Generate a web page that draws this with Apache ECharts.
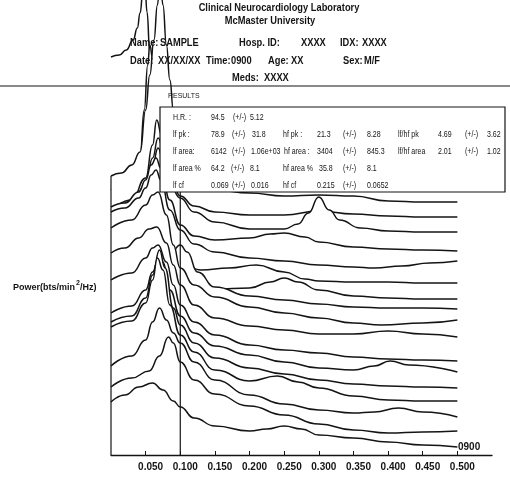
<!DOCTYPE html>
<html><head><meta charset="utf-8">
<script src="https://cdn.jsdelivr.net/npm/echarts@6/dist/echarts.min.js"></script>
<style>html,body{margin:0;padding:0;background:#fff}#c{width:510px;height:478px}</style>
</head><body><div id="c"></div>
<script>
// frequency tick labels (Hz)
const freqTicks = [0.05,0.10,0.15,0.20,0.25,0.30,0.35,0.40,0.45,0.50];
// spectra: [frequency, stacked power height], front (spec01) to back (spec20)
const spec01 = [[0,53],[0.02,60],[0.04,68],[0.06,72],[0.075,65],[0.09,54],[0.1,48],[0.12,37],[0.15,29],[0.2,24],[0.225,26],[0.25,29],[0.275,26],[0.3,20],[0.35,17],[0.4,13],[0.45,10],[0.5,8]];
const spec02 = [[0,68],[0.03,77],[0.055,84],[0.07,99],[0.083,118],[0.09,112],[0.1,93],[0.12,75],[0.15,61],[0.2,49],[0.25,40],[0.3,31],[0.35,25],[0.4,22],[0.45,23],[0.5,24]];
const spec03 = [[0,89],[0.03,99],[0.05,115],[0.06,133],[0.07,147],[0.08,135],[0.09,122],[0.1,112],[0.12,93],[0.15,75],[0.2,60],[0.25,51],[0.3,45],[0.35,42],[0.38,43],[0.415,47],[0.45,43],[0.5,38]];
const spec04 = [[0,128],[0.03,134],[0.05,152],[0.06,175],[0.067,197],[0.075,185],[0.085,150],[0.1,120],[0.12,103],[0.15,85],[0.2,74],[0.24,79],[0.27,73],[0.3,67],[0.35,59],[0.4,55],[0.45,54],[0.5,54]];
const spec05 = [[0,133],[0.03,139],[0.05,157],[0.06,180],[0.07,205],[0.078,187],[0.09,147],[0.1,130],[0.12,112],[0.15,97],[0.2,87],[0.25,81],[0.3,75],[0.35,71],[0.4,69],[0.45,68],[0.5,67]];
const spec06 = [[0,142],[0.03,149],[0.05,165],[0.06,183],[0.068,195],[0.075,193],[0.085,165],[0.1,139],[0.12,122],[0.15,109],[0.2,100],[0.25,93],[0.3,87],[0.35,85],[0.38,89],[0.403,94],[0.43,90],[0.5,83]];
const spec07 = [[0,175],[0.03,182],[0.05,197],[0.06,207],[0.068,210],[0.08,193],[0.09,170],[0.1,150],[0.12,133],[0.15,120],[0.2,110],[0.25,105],[0.3,102],[0.35,98],[0.4,96],[0.45,95],[0.5,94]];
const spec08 = [[0,202],[0.02,207],[0.04,217],[0.055,226],[0.066,228],[0.08,212],[0.09,190],[0.1,170],[0.12,150],[0.15,137],[0.2,129],[0.25,125],[0.3,121],[0.35,121],[0.4,124],[0.45,121],[0.5,118]];
const spec09 = [[0,227],[0.03,235],[0.05,250],[0.06,260],[0.068,263],[0.08,240],[0.09,210],[0.1,187],[0.12,170],[0.15,158],[0.2,148],[0.25,142],[0.3,137],[0.35,132],[0.39,130],[0.45,132],[0.5,135]];
const spec10 = [[0,165],[0.04,170],[0.07,180],[0.085,200],[0.1,210],[0.11,203],[0.125,183],[0.15,168],[0.2,159],[0.25,155],[0.3,151],[0.35,148],[0.4,147],[0.45,147],[0.5,146]];
const spec11 = [[0,175],[0.05,185],[0.08,193],[0.09,189],[0.1,180],[0.12,171],[0.15,166],[0.2,167],[0.23,173],[0.25,177],[0.27,173],[0.3,165],[0.35,159],[0.4,157],[0.45,156],[0.5,156]];
const spec12 = [[0,185],[0.05,193],[0.08,197],[0.1,193],[0.13,185],[0.17,187],[0.21,190],[0.25,183],[0.28,176],[0.3,174],[0.35,173],[0.4,173],[0.45,172],[0.5,172]];
const spec13 = [[0,243],[0.02,247],[0.04,257],[0.05,267],[0.058,280],[0.065,285],[0.072,275],[0.085,245],[0.1,225],[0.12,211],[0.15,203],[0.2,197],[0.25,194],[0.3,190],[0.35,188],[0.38,187],[0.42,189],[0.46,192],[0.5,194]];
const spec14 = [[0,248],[0.02,252],[0.04,263],[0.05,275],[0.058,290],[0.065,297],[0.072,287],[0.085,255],[0.1,230],[0.12,219],[0.15,215],[0.2,217],[0.23,221],[0.25,222],[0.28,218],[0.3,213],[0.35,208],[0.4,206],[0.45,205],[0.5,204]];
const spec15 = [[0,240],[0.03,247],[0.05,265],[0.06,290],[0.068,307],[0.075,295],[0.085,270],[0.1,257],[0.12,243],[0.15,233],[0.2,226],[0.25,226],[0.27,231],[0.285,242],[0.3,258],[0.315,245],[0.33,235],[0.36,227],[0.4,224],[0.45,223],[0.5,223]];
const spec16 = [[0,243],[0.03,251],[0.05,270],[0.06,297],[0.068,317],[0.076,305],[0.085,280],[0.1,259],[0.12,249],[0.15,243],[0.2,240],[0.25,240],[0.3,244],[0.35,241],[0.4,239],[0.45,238],[0.5,238]];
const spec17 = [[0,245],[0.03,255],[0.05,277],[0.06,310],[0.066,335],[0.073,320],[0.085,290],[0.1,270],[0.15,265],[0.2,262],[0.25,259],[0.3,260],[0.35,259],[0.4,254],[0.45,253],[0.5,253]];
const spec18 = [[0,279],[0.015,282],[0.03,290],[0.042,303],[0.05,345],[0.056,380],[0.062,415],[0.067,450],[0.071,480],[0.075,450],[0.08,410],[0.085,375],[0.09,345],[0.1,305],[0.12,283],[0.2,275],[0.5,271]];
const spec19 = [[0,265],[0.03,283],[0.042,300],[0.048,345],[0.053,390],[0.056,410],[0.06,397],[0.066,360],[0.075,320],[0.09,290],[0.1,280],[0.2,275],[0.5,273]];
const spec20 = [[0,398],[0.012,400],[0.022,405],[0.032,415],[0.038,427],[0.042,442],[0.046,463],[0.049,470],[0.052,443],[0.056,403],[0.06,365],[0.07,325],[0.085,295],[0.1,283],[0.2,277],[0.5,275]];
// reference lines
const lfLimit = [[0.1,0],[0.1,263]];
const powerAxis = [[0,0],[0,279]];

const spectraBackToFront = [spec20,spec19,spec18,spec17,spec16,spec15,spec14,spec13,spec12,spec11,spec10,spec09,spec08,spec07,spec06,spec05,spec04,spec03,spec02,spec01];

// header / results texts
const headerRows = [
  ['Name:',130,43],['SAMPLE',160,43],['Hosp. ID:',239,43],['XXXX',301,43],['IDX:',340,43],['XXXX',362,43],
  ['Date:',130,61],['XX/XX/XX',158,61],['Time:',206,61],['0900',231,61],['Age:',268,61],['XX',291,61],['Sex:',343,61],['M/F',364,61],
  ['Meds:',232,78],['XXXX',264,78]
];
const resultsRows = [
  ['H.R. :',173,117],['94.5',211,117],['(+/-)',233,117],['5.12',250,117],
  ['lf pk :',173,134],['78.9',211,134],['(+/-)',232,134],['31.8',252,134],['hf pk :',283,134],['21.3',317,134],['(+/-)',343,134],['8.28',367,134],['lf/hf pk',398,134],['4.69',438,134],['(+/-)',465,134],['3.62',487,134],
  ['lf area:',173,151],['6142',211,151],['(+/-)',232,151],['1.06e+03',251,151],['hf area :',284,151],['3404',317,151],['(+/-)',343,151],['845.3',367,151],['lf/hf area',398,151],['2.01',438,151],['(+/-)',465,151],['1.02',487,151],
  ['lf area %',173,168],['64.2',211,168],['(+/-)',231,168],['8.1',250,168],['hf area %',283,168],['35.8',319,168],['(+/-)',343,168],['8.1',367,168],
  ['lf cf',173,185],['0.069',211,185],['(+/-)',232,185],['0.016',251,185],['hf cf',283,185],['0.215',317,185],['(+/-)',343,185],['0.0652',367,185]
];

const INK = '#141414';
const chart = echarts.init(document.getElementById('c'), null, {renderer:'canvas'});
const series = spectraBackToFront.map((d, i) => ({
  type:'line', data:d, symbol:'none', smooth:0.5, smoothMonotone:'x',
  lineStyle:{color:INK, width:1.5}, areaStyle:{color:'#fff', opacity:1, origin:'start'},
  silent:true, animation:false, z:2 + i
}));
[lfLimit, powerAxis].forEach(d => series.push({type:'line', data:d, symbol:'none', lineStyle:{color:INK, width:1.2}, silent:true, animation:false, z:40}));

const graphic = [];
graphic.push({type:'line', z:100, shape:{x1:0,y1:86,x2:510,y2:86}, style:{stroke:INK, lineWidth:1.2}});
graphic.push({type:'text', z:100, x:279, y:8, scaleX:0.93, style:{text:'Clinical Neurocardiology Laboratory', font:'bold 10px "Liberation Sans"', fill:INK, textAlign:'center', textVerticalAlign:'middle'}});
graphic.push({type:'text', z:100, x:270, y:21, scaleX:0.93, style:{text:'McMaster University', font:'bold 10px "Liberation Sans"', fill:INK, textAlign:'center', textVerticalAlign:'middle'}});
headerRows.forEach(r => graphic.push({type:'text', z:100, x:r[1], y:r[2], scaleX:0.93, style:{text:r[0], font:'bold 10px "Liberation Sans"', fill:INK, textVerticalAlign:'middle'}}));
graphic.push({type:'text', z:100, x:168, y:96, scaleX:0.87, style:{text:'RESULTS', font:'8px "Liberation Sans"', fill:INK, textVerticalAlign:'middle'}});
graphic.push({type:'rect', z:100, shape:{x:160,y:107,width:345,height:85}, style:{fill:'#fff', stroke:INK, lineWidth:1.2}});
resultsRows.forEach(r => graphic.push({type:'text', z:101, x:r[1], y:r[2], scaleX:0.74, style:{text:r[0], font:'9.5px "Liberation Sans"', fill:INK, textVerticalAlign:'middle'}}));
graphic.push({type:'text', z:100, x:13, y:288, style:{text:'Power(bts/min', font:'bold 9px "Liberation Sans"', fill:INK, textVerticalAlign:'middle'}});
graphic.push({type:'text', z:100, x:76, y:283, style:{text:'2', font:'bold 7px "Liberation Sans"', fill:INK, textVerticalAlign:'middle'}});
graphic.push({type:'text', z:100, x:80, y:288, style:{text:'/Hz)', font:'bold 9px "Liberation Sans"', fill:INK, textVerticalAlign:'middle'}});
graphic.push({type:'text', z:100, x:458, y:447, style:{text:'0900', font:'bold 10px "Liberation Sans"', fill:INK, textVerticalAlign:'middle'}});

chart.setOption({
  animation:false,
  backgroundColor:'#fff',
  grid:{left:111, right:18, top:0, bottom:23},
  xAxis:{type:'value', min:0, max:0.55, interval:0.05, z:50,
    axisLine:{lineStyle:{color:INK, width:1.3}},
    axisTick:{inside:true, length:4, customValues:freqTicks, lineStyle:{color:INK}},
    axisLabel:{customValues:freqTicks, margin:7, padding:[0,0,0,10], color:INK, fontWeight:'bold', fontSize:10, fontFamily:'Liberation Sans',
      formatter: v => (v < 0.01 || v > 0.501) ? '' : v.toFixed(3)},
    splitLine:{show:false}},
  yAxis:{type:'value', min:0, max:455, show:false},
  series:series,
  graphic:graphic
});
</script></body></html>
